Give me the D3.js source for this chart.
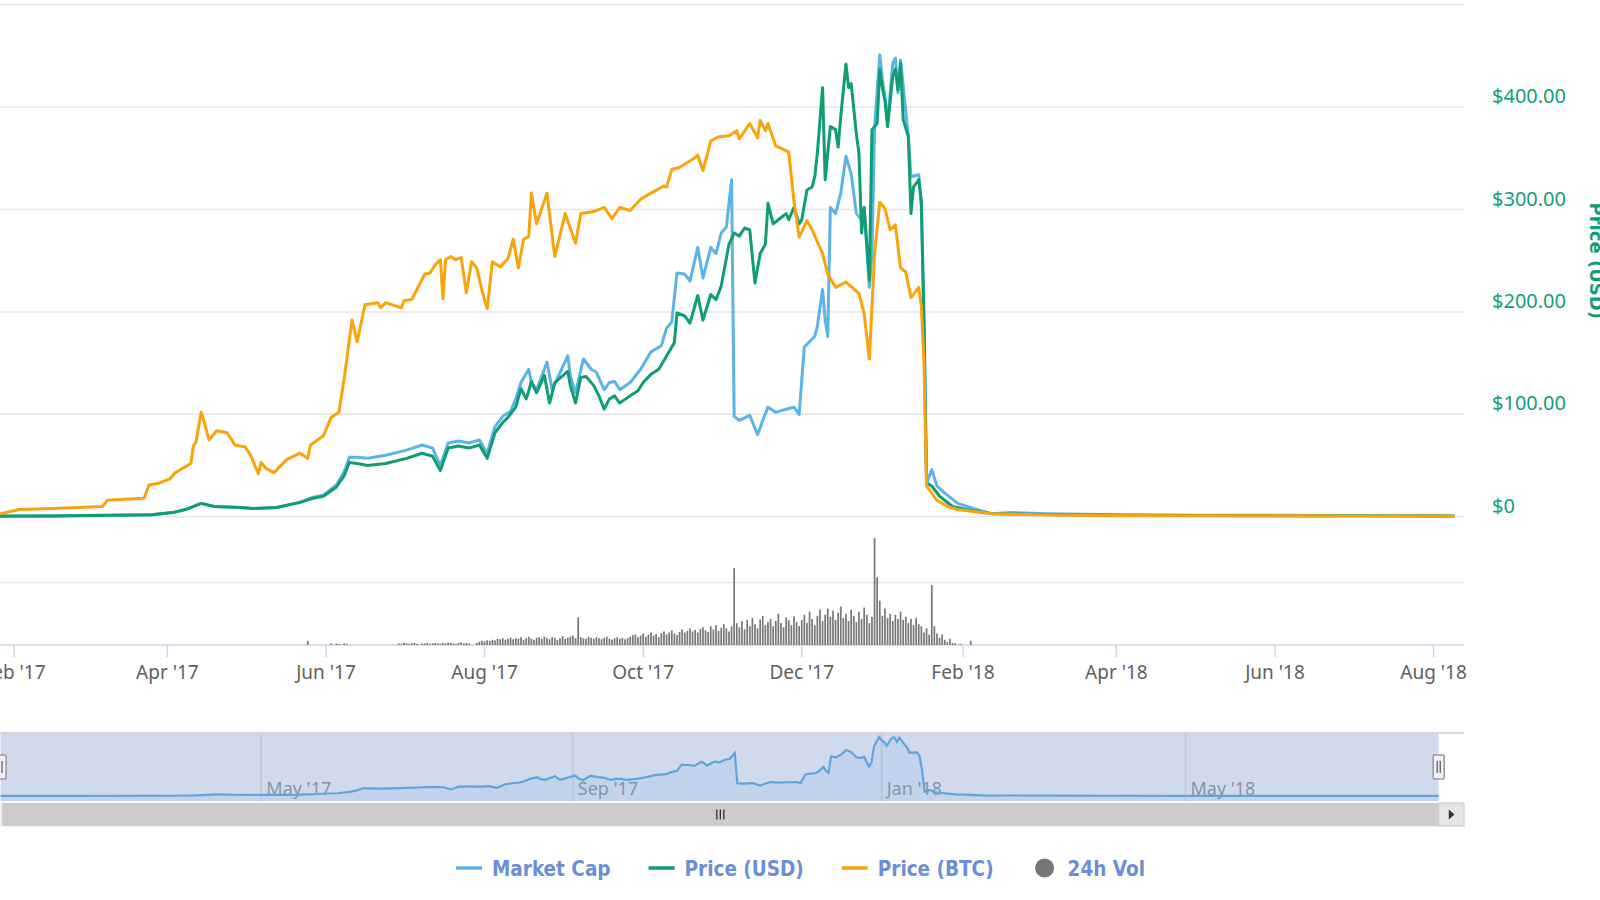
<!DOCTYPE html>
<html>
<head>
<meta charset="utf-8">
<script src="https://d3js.org/d3.v7.min.js"></script>
<style>
  body { margin: 0; background: #fff; }
  svg { display: block; }
</style>
</head>
<body>
<script>
        // Market cap, million USD
        var marketCap = [
            ["2017-01-18", 3], ["2017-02-15", 4], ["2017-03-26", 12], ["2017-04-03", 24], ["2017-04-08", 42],
            ["2017-04-14", 78], ["2017-04-19", 60], ["2017-04-29", 54], ["2017-05-04", 48], ["2017-05-13", 54],
            ["2017-05-22", 84], ["2017-05-27", 114], ["2017-05-31", 126], ["2017-06-05", 186], ["2017-06-08", 264],
            ["2017-06-10", 348], ["2017-06-13", 348], ["2017-06-17", 342], ["2017-06-24", 360], ["2017-07-02", 390],
            ["2017-07-08", 420], ["2017-07-12", 402], ["2017-07-15", 300], ["2017-07-18", 432], ["2017-07-22", 444],
            ["2017-07-26", 432], ["2017-07-30", 450], ["2017-08-02", 372], ["2017-08-05", 528], ["2017-08-08", 588],
            ["2017-08-11", 618], ["2017-08-13", 690], ["2017-08-15", 786], ["2017-08-18", 864], ["2017-08-19", 786],
            ["2017-08-21", 744], ["2017-08-25", 906], ["2017-08-27", 744], ["2017-09-02", 942], ["2017-09-03", 822],
            ["2017-09-05", 726], ["2017-09-08", 924], ["2017-09-11", 864], ["2017-09-13", 846], ["2017-09-16", 744],
            ["2017-09-18", 786], ["2017-09-20", 792], ["2017-09-22", 744], ["2017-09-26", 786], ["2017-09-30", 864],
            ["2017-10-04", 966], ["2017-10-08", 1002], ["2017-10-10", 1104], ["2017-10-12", 1140], ["2017-10-14", 1428],
            ["2017-10-17", 1422], ["2017-10-19", 1380], ["2017-10-22", 1578], ["2017-10-24", 1398], ["2017-10-27", 1578],
            ["2017-10-29", 1542], ["2017-10-31", 1662], ["2017-11-02", 1698], ["2017-11-04", 1974], ["2017-11-05", 588],
            ["2017-11-07", 564], ["2017-11-11", 594], ["2017-11-14", 480], ["2017-11-16", 564], ["2017-11-18", 642],
            ["2017-11-21", 612], ["2017-11-25", 630], ["2017-11-28", 642], ["2017-11-30", 600], ["2017-12-02", 996],
            ["2017-12-04", 1026], ["2017-12-06", 1056], ["2017-12-07", 1116], ["2017-12-09", 1332], ["2017-12-10", 1152],
            ["2017-12-11", 1056], ["2017-12-12", 1812], ["2017-12-14", 1776], ["2017-12-16", 1896], ["2017-12-18", 2112],
            ["2017-12-20", 2010], ["2017-12-22", 1776], ["2017-12-24", 1740], ["2017-12-25", 1812], ["2017-12-27", 1344],
            ["2017-12-28", 1542], ["2017-12-29", 2286], ["2017-12-31", 2706], ["2018-01-01", 2562], ["2018-01-02", 2460],
            ["2018-01-03", 2304], ["2018-01-05", 2658], ["2018-01-06", 2688], ["2018-01-07", 2484], ["2018-01-08", 2676],
            ["2018-01-11", 2226], ["2018-01-12", 1992], ["2018-01-15", 2004], ["2018-01-16", 1812], ["2018-01-17", 1152],
            ["2018-01-18", 198], ["2018-01-20", 276], ["2018-01-22", 180], ["2018-01-25", 138], ["2018-01-30", 78],
            ["2018-02-05", 48], ["2018-02-12", 18], ["2018-02-20", 24], ["2018-03-05", 18], ["2018-04-01", 12],
            ["2018-05-01", 9], ["2018-06-01", 8], ["2018-07-01", 7], ["2018-08-09", 6]
        ];

        // Price in USD
        var priceUsd = [
            ["2017-01-18", 0.5], ["2017-02-15", 0.7], ["2017-03-26", 2], ["2017-04-03", 4], ["2017-04-08", 7],
            ["2017-04-14", 13], ["2017-04-19", 10], ["2017-04-29", 9], ["2017-05-04", 8], ["2017-05-13", 9],
            ["2017-05-22", 14], ["2017-05-27", 18], ["2017-05-31", 20], ["2017-06-05", 29], ["2017-06-08", 40],
            ["2017-06-10", 53], ["2017-06-13", 52], ["2017-06-17", 50], ["2017-06-24", 52], ["2017-07-02", 57],
            ["2017-07-08", 62], ["2017-07-12", 59], ["2017-07-15", 45], ["2017-07-18", 67], ["2017-07-22", 69],
            ["2017-07-26", 67], ["2017-07-30", 70], ["2017-08-02", 57], ["2017-08-05", 82], ["2017-08-08", 92],
            ["2017-08-10", 97], ["2017-08-13", 107], ["2017-08-15", 125], ["2017-08-17", 115], ["2017-08-18", 123],
            ["2017-08-19", 132], ["2017-08-21", 121], ["2017-08-24", 138], ["2017-08-26", 111], ["2017-08-28", 131],
            ["2017-09-02", 142], ["2017-09-03", 128], ["2017-09-05", 111], ["2017-09-07", 136], ["2017-09-09", 137],
            ["2017-09-12", 128], ["2017-09-14", 118], ["2017-09-16", 105], ["2017-09-18", 115], ["2017-09-20", 118],
            ["2017-09-22", 111], ["2017-09-26", 118], ["2017-09-29", 123], ["2017-10-01", 131], ["2017-10-04", 139],
            ["2017-10-07", 144], ["2017-10-10", 157], ["2017-10-13", 170], ["2017-10-14", 199], ["2017-10-17", 196],
            ["2017-10-19", 189], ["2017-10-22", 216], ["2017-10-24", 192], ["2017-10-27", 217], ["2017-10-29", 212],
            ["2017-10-31", 225], ["2017-11-03", 266], ["2017-11-05", 277], ["2017-11-07", 274], ["2017-11-09", 282],
            ["2017-11-11", 280], ["2017-11-13", 228], ["2017-11-15", 257], ["2017-11-17", 266], ["2017-11-18", 306],
            ["2017-11-20", 286], ["2017-11-22", 290], ["2017-11-25", 296], ["2017-11-26", 290], ["2017-11-28", 302],
            ["2017-11-30", 286], ["2017-12-01", 290], ["2017-12-03", 319], ["2017-12-05", 322], ["2017-12-06", 332],
            ["2017-12-07", 355], ["2017-12-09", 419], ["2017-12-10", 329], ["2017-12-12", 381], ["2017-12-14", 378],
            ["2017-12-15", 361], ["2017-12-16", 391], ["2017-12-18", 442], ["2017-12-19", 419], ["2017-12-20", 423],
            ["2017-12-22", 374], ["2017-12-23", 355], ["2017-12-24", 277], ["2017-12-25", 302], ["2017-12-27", 231],
            ["2017-12-28", 378], ["2017-12-30", 384], ["2017-12-31", 437], ["2018-01-01", 419], ["2018-01-02", 406],
            ["2018-01-03", 381], ["2018-01-05", 430], ["2018-01-06", 437], ["2018-01-07", 417], ["2018-01-08", 443],
            ["2018-01-09", 388], ["2018-01-11", 371], ["2018-01-12", 296], ["2018-01-13", 322], ["2018-01-15", 329],
            ["2018-01-16", 308], ["2018-01-17", 192], ["2018-01-18", 33], ["2018-01-20", 30], ["2018-01-23", 20],
            ["2018-01-28", 10], ["2018-02-04", 6], ["2018-02-12", 3], ["2018-02-25", 2.5], ["2018-03-10", 2],
            ["2018-04-01", 1.5], ["2018-05-01", 1.2], ["2018-06-01", 1], ["2018-07-01", 0.9], ["2018-08-09", 0.8]
        ];

        // Price in BTC
        var priceBtc = [
            ["2017-01-18", 0.0002], ["2017-01-27", 0.0003], ["2017-02-03", 0.0007], ["2017-02-16", 0.0008], ["2017-03-07", 0.0010],
            ["2017-03-09", 0.0016], ["2017-03-23", 0.0018], ["2017-03-25", 0.0031], ["2017-03-29", 0.0033], ["2017-04-02", 0.0037],
            ["2017-04-04", 0.0043], ["2017-04-10", 0.0052], ["2017-04-11", 0.0069], ["2017-04-12", 0.0073], ["2017-04-14", 0.0102],
            ["2017-04-15", 0.0094], ["2017-04-17", 0.0075], ["2017-04-20", 0.0084], ["2017-04-24", 0.0082], ["2017-04-27", 0.0070],
            ["2017-05-01", 0.0068], ["2017-05-03", 0.0060], ["2017-05-06", 0.0042], ["2017-05-07", 0.0053], ["2017-05-09", 0.0047],
            ["2017-05-12", 0.0043], ["2017-05-17", 0.0056], ["2017-05-22", 0.0062], ["2017-05-25", 0.0057], ["2017-05-26", 0.0070],
            ["2017-05-31", 0.0079], ["2017-06-03", 0.0097], ["2017-06-06", 0.0102], ["2017-06-08", 0.0135], ["2017-06-11", 0.0192],
            ["2017-06-13", 0.0171], ["2017-06-16", 0.0207], ["2017-06-21", 0.0209], ["2017-06-22", 0.0204], ["2017-06-24", 0.0209],
            ["2017-06-30", 0.0204], ["2017-07-01", 0.0211], ["2017-07-04", 0.0212], ["2017-07-09", 0.0237], ["2017-07-11", 0.0238],
            ["2017-07-13", 0.0246], ["2017-07-15", 0.0251], ["2017-07-16", 0.0213], ["2017-07-17", 0.0251], ["2017-07-19", 0.0254],
            ["2017-07-21", 0.0251], ["2017-07-23", 0.0253], ["2017-07-25", 0.0219], ["2017-07-27", 0.0249], ["2017-07-29", 0.0243],
            ["2017-07-31", 0.0221], ["2017-08-02", 0.0203], ["2017-08-04", 0.0249], ["2017-08-07", 0.0244], ["2017-08-10", 0.0252],
            ["2017-08-12", 0.0271], ["2017-08-14", 0.0243], ["2017-08-16", 0.0271], ["2017-08-18", 0.0274], ["2017-08-19", 0.0316],
            ["2017-08-21", 0.0286], ["2017-08-25", 0.0316], ["2017-08-28", 0.0254], ["2017-09-01", 0.0296], ["2017-09-05", 0.0267],
            ["2017-09-07", 0.0296], ["2017-09-12", 0.0298], ["2017-09-16", 0.0302], ["2017-09-19", 0.0291], ["2017-09-22", 0.0302],
            ["2017-09-26", 0.0299], ["2017-09-30", 0.0310], ["2017-10-04", 0.0316], ["2017-10-09", 0.0323], ["2017-10-10", 0.0322],
            ["2017-10-12", 0.0339], ["2017-10-15", 0.0341], ["2017-10-20", 0.0349], ["2017-10-22", 0.0353], ["2017-10-24", 0.0338],
            ["2017-10-27", 0.0367], ["2017-10-30", 0.0371], ["2017-11-03", 0.0372], ["2017-11-06", 0.0377], ["2017-11-07", 0.0369],
            ["2017-11-11", 0.0384], ["2017-11-14", 0.0370], ["2017-11-15", 0.0387], ["2017-11-17", 0.0377], ["2017-11-18", 0.0384],
            ["2017-11-21", 0.0362], ["2017-11-23", 0.0360], ["2017-11-26", 0.0356], ["2017-11-28", 0.0308], ["2017-11-30", 0.0273],
            ["2017-12-03", 0.0289], ["2017-12-05", 0.0280], ["2017-12-09", 0.0257], ["2017-12-11", 0.0237], ["2017-12-14", 0.0224],
            ["2017-12-18", 0.0229], ["2017-12-23", 0.0218], ["2017-12-25", 0.0198], ["2017-12-27", 0.0154], ["2017-12-29", 0.0257],
            ["2017-12-31", 0.0307], ["2018-01-02", 0.0301], ["2018-01-04", 0.0280], ["2018-01-06", 0.0285], ["2018-01-08", 0.0243],
            ["2018-01-10", 0.0239], ["2018-01-12", 0.0214], ["2018-01-15", 0.0224], ["2018-01-16", 0.0205], ["2018-01-17", 0.0150],
            ["2018-01-18", 0.0030], ["2018-01-20", 0.0023], ["2018-01-22", 0.0016], ["2018-01-26", 0.0010], ["2018-01-30", 0.0007],
            ["2018-02-05", 0.0005], ["2018-02-12", 0.0003], ["2018-02-20", 0.00025], ["2018-03-01", 0.0002], ["2018-03-15", 0.00015],
            ["2018-04-01", 0.00012], ["2018-05-01", 0.0001], ["2018-06-01", 0.00009], ["2018-07-01", 0.00008], ["2018-08-09", 0.00007]
        ];

        // 24h volume, million USD, one value per day from volumeStart
        var volumeStart = "2017-05-25";
        var volume = [
            0.8, 0, 0, 0, 0, 0, 0, 0, 0, 0.3,
            0, 0.3, 0.2, 0, 0.3, 0.2, 0, 0, 0, 0,
            0, 0, 0, 0, 0, 0, 0, 0, 0, 0,
            0, 0, 0, 0, 0, 0.3, 0.2, 0.4, 0.3, 0.2,
            0.3, 0.4, 0.2, 0, 0.3, 0.3, 0.4, 0.2, 0.3, 0.4,
            0.3, 0.2, 0.4, 0.3, 0.5, 0.4, 0.3, 0.2, 0.4, 0.5,
            0.3, 0.4, 0.3, 0, 0, 0.4, 0.6, 0.8, 0.7, 0.9,
            0.8, 1.0, 0.9, 1.2, 1.1, 1.3, 1.0, 1.2, 1.4, 1.1,
            1.3, 1.2, 1.5, 1.0, 1.3, 1.6, 1.2, 1.0, 1.4, 1.5,
            1.2, 1.6, 1.3, 1.1, 1.5, 1.4, 1.0, 1.3, 1.7, 1.2,
            1.4, 1.6, 1.8, 1.3, 5.3, 1.5, 1.3, 1.2, 1.6, 1.4,
            1.2, 1.5, 1.3, 1.1, 1.4, 1.6, 1.2, 1.0, 1.3, 1.5,
            1.2, 1.4, 1.1, 1.3, 1.6, 1.9, 2.0, 1.5, 1.8, 2.2,
            1.6, 2.0, 2.4, 1.8, 2.1, 1.5, 2.3, 2.6, 2.0, 2.4,
            2.8, 2.2, 1.9, 2.5, 3.0, 2.4, 2.7, 3.2, 2.6, 2.9,
            2.4, 3.1, 3.4, 2.8, 2.5, 3.6, 3.0, 3.8, 2.7, 3.3,
            4.0, 3.2, 2.6, 3.6, 14.8, 4.2, 3.4, 4.6, 3.0, 4.8,
            3.6, 5.2, 4.0, 3.2, 4.9, 5.6, 3.8, 4.4, 5.0, 3.6,
            4.6, 6.0, 4.2, 3.4, 5.3, 4.8, 3.8, 5.5, 4.4, 3.6,
            4.8, 5.8, 4.2, 6.4, 5.0, 3.8, 5.6, 6.8, 4.6, 5.8,
            7.0, 5.4, 6.6, 4.8, 6.2, 7.4, 5.2, 6.0, 4.6, 6.8,
            5.6, 4.4, 6.4, 5.0, 7.2, 5.8, 4.2, 5.4, 20.5, 13.0,
            8.5, 5.6, 7.0, 5.2, 6.0, 4.6, 5.8, 5.0, 6.4, 4.8,
            5.4, 4.2, 5.0, 3.8, 5.2, 4.0, 3.6, 2.4, 3.2, 2.0,
            11.5, 3.6, 2.2, 1.4, 2.0, 1.0, 0.6, 1.2, 0.4, 0.3,
            0, 0.2, 0, 0, 0, 0.8
        ];

        var priceTicks = [0, 100, 200, 300, 400, 500];
        var monthTicks = ["2017-02-01", "2017-04-01", "2017-06-01", "2017-08-01", "2017-10-01", "2017-12-01",
                          "2018-02-01", "2018-04-01", "2018-06-01", "2018-08-01"];
        var navTicks = ["2017-05-01", "2017-09-01", "2018-01-01", "2018-05-01"];
        var seriesNames = ["Market Cap", "Price (USD)", "Price (BTC)", "24h Vol"];
        var seriesColors = ["#5ab4e8", "#0f9d74", "#f9a30d", "#777777"];

        var width = 1600;
        var height = 900;
        var plotRight = 1464;
        var labelFont = "'Noto Sans', 'Open Sans', sans-serif";

        var parse = d3.utcParse("%Y-%m-%d");

        // Scales for the main panes (price axis shown, the others hidden)
        var x = d3.scaleUtc()
                  .domain([new Date(Date.UTC(2017, 0, 26, 15)), new Date(Date.UTC(2018, 7, 12, 17))])
                  .range([0, plotRight]);
        var yUsd = d3.scaleLinear().domain([0, 500]).range([516.7, 4.7]);
        var yCap = d3.scaleLinear().domain([0, 3000]).range([516.7, 4.7]);
        var yBtc = d3.scaleLinear().domain([0, 0.05]).range([516.7, 4.7]);
        var yVol = d3.scaleLinear().domain([0, 24]).range([645, 520]);

        // Navigator scales
        var xNav = d3.scaleUtc()
                     .domain([new Date(Date.UTC(2017, 0, 17, 19)), new Date(Date.UTC(2018, 7, 19))])
                     .range([0, plotRight]);
        var yNav = d3.scaleLinear().domain([0, d3.max(marketCap, function(d) { return d[1]; })]).range([796, 737]);

        var svg = d3.select("body")
                    .append("svg")
                    .attr("width", width)
                    .attr("height", height);

        svg.append("defs").append("clipPath").attr("id", "plot")
           .append("rect").attr("x", 0).attr("y", 0).attr("width", plotRight).attr("height", 646);

        // Price grid lines
        svg.append("g").selectAll("line")
           .data(priceTicks)
           .enter()
           .append("line")
           .attr("x1", 0).attr("x2", plotRight)
           .attr("y1", function(d) { return yUsd(d); })
           .attr("y2", function(d) { return yUsd(d); })
           .style("stroke", "#e6e6e6")
           .style("stroke-width", 1.5);

        // Volume grid line
        svg.append("line")
           .attr("x1", 0).attr("x2", plotRight)
           .attr("y1", yVol(12)).attr("y2", yVol(12))
           .style("stroke", "#e6e6e6")
           .style("stroke-width", 1.5);

        // X axis line, ticks and labels
        svg.append("line")
           .attr("x1", 0).attr("x2", plotRight)
           .attr("y1", yVol(0)).attr("y2", yVol(0))
           .style("stroke", "#ccd6eb")
           .style("stroke-width", 1.5);

        var xTicks = svg.append("g").selectAll("g")
                        .data(monthTicks)
                        .enter()
                        .append("g")
                        .attr("transform", function(d) { return "translate(" + x(parse(d)) + ",0)"; });
        xTicks.append("line")
              .attr("y1", yVol(0)).attr("y2", yVol(0) + 12)
              .style("stroke", "#ccd6eb")
              .style("stroke-width", 1.5);
        xTicks.append("text")
              .attr("y", 678.5)
              .attr("text-anchor", "middle")
              .style("font-family", labelFont)
              .style("font-size", "19px")
              .style("fill", "#606060")
              .text(function(d) { return d3.utcFormat("%b '%y")(parse(d)); });

        var plot = svg.append("g").attr("clip-path", "url(#plot)");

        // Volume bars
        var day0 = parse(volumeStart);
        plot.append("g").selectAll("rect")
            .data(volume)
            .enter()
            .append("rect")
            .attr("x", function(d, i) { return x(d3.utcDay.offset(day0, i)) - 0.85; })
            .attr("width", 1.7)
            .attr("y", function(d) { return yVol(d); })
            .attr("height", function(d) { return yVol(0) - yVol(d); })
            .style("fill", seriesColors[3]);

        // Lines
        function drawLine(data, yScale, color) {
            var line = d3.line()
                         .x(function(d) { return x(parse(d[0])); })
                         .y(function(d) { return yScale(d[1]); });
            plot.append("path")
                .datum(data)
                .attr("d", line)
                .style("fill", "none")
                .style("stroke", color)
                .style("stroke-width", 3)
                .style("stroke-linejoin", "round");
        }
        drawLine(marketCap, yCap, seriesColors[0]);
        drawLine(priceUsd, yUsd, seriesColors[1]);
        drawLine(priceBtc, yBtc, seriesColors[2]);

        // Price axis labels on the right
        svg.append("g").selectAll("text")
           .data(priceTicks.slice(0, 5))
           .enter()
           .append("text")
           .attr("x", 1492)
           .attr("y", function(d) { return yUsd(d) - 4; })
           .style("font-family", labelFont)
           .style("font-size", "20px")
           .style("fill", "#12a079")
           .text(function(d) { return d === 0 ? "$0" : "$" + d3.format(".2f")(d); });

        svg.append("text")
           .attr("transform", "translate(1590," + yUsd(250) + ") rotate(90)")
           .attr("text-anchor", "middle")
           .style("font-family", "'DejaVu Sans', sans-serif")
           .style("font-weight", "bold")
           .style("font-size", "18px")
           .style("fill", "#0f9d74")
           .text("Price (USD)");

        // Navigator
        var nav = svg.append("g");
        nav.append("g").selectAll("line")
           .data(navTicks)
           .enter()
           .append("line")
           .attr("x1", function(d) { return xNav(parse(d)); })
           .attr("x2", function(d) { return xNav(parse(d)); })
           .attr("y1", 733).attr("y2", 801)
           .style("stroke", "#e6e6e6")
           .style("stroke-width", 1.5);
        nav.append("g").selectAll("text")
           .data(navTicks)
           .enter()
           .append("text")
           .attr("x", function(d) { return xNav(parse(d)) + 5; })
           .attr("y", 795)
           .style("font-family", labelFont)
           .style("font-size", "18px")
           .style("fill", "#999999")
           .text(function(d) { return d3.utcFormat("%b '%y")(parse(d)); });

        var navArea = d3.area()
                        .x(function(d) { return xNav(parse(d[0])); })
                        .y0(801)
                        .y1(function(d) { return yNav(d[1]); });
        var navLine = d3.line()
                        .x(function(d) { return xNav(parse(d[0])); })
                        .y(function(d) { return yNav(d[1]); });
        nav.append("path").datum(marketCap).attr("d", navArea)
           .style("fill", "rgba(90,170,230,0.12)");
        nav.append("path").datum(marketCap).attr("d", navLine)
           .style("fill", "none").style("stroke", seriesColors[0]).style("stroke-width", 2.2);

        // Selected range mask
        var selStart = xNav(parse(marketCap[0][0]));
        var selEnd = xNav(parse(marketCap[marketCap.length - 1][0]));
        nav.append("rect")
           .attr("x", selStart).attr("y", 733)
           .attr("width", selEnd - selStart).attr("height", 68)
           .style("fill", "rgba(102,133,194,0.3)");
        nav.append("line")
           .attr("x1", 0).attr("x2", plotRight)
           .attr("y1", 733).attr("y2", 733)
           .style("stroke", "#cccccc").style("stroke-width", 1.5);

        // Handles
        [selStart, selEnd].forEach(function(hx) {
            var h = nav.append("g").attr("transform", "translate(" + hx + ",767)");
            h.append("rect").attr("x", -5.5).attr("y", -12).attr("width", 11).attr("height", 24).attr("rx", 1)
             .style("fill", "#f2f2f2").style("stroke", "#999999").style("stroke-width", 1.5);
            h.append("line").attr("x1", -1.5).attr("x2", -1.5).attr("y1", -6).attr("y2", 6)
             .style("stroke", "#333").style("stroke-width", 1);
            h.append("line").attr("x1", 1.5).attr("x2", 1.5).attr("y1", -6).attr("y2", 6)
             .style("stroke", "#333").style("stroke-width", 1);
        });

        // Scrollbar
        var sb = svg.append("g");
        sb.append("rect").attr("x", 0).attr("y", 803).attr("width", plotRight).attr("height", 23)
          .style("fill", "#f2f2f2").style("stroke", "#f2f2f2");
        sb.append("rect").attr("x", 2).attr("y", 803).attr("width", selEnd - 2).attr("height", 23)
          .style("fill", "#cccccc");
        [-3.5, 0, 3.5].forEach(function(dx) {
            sb.append("line")
              .attr("x1", (2 + selEnd) / 2 + dx).attr("x2", (2 + selEnd) / 2 + dx)
              .attr("y1", 809.5).attr("y2", 819.5)
              .style("stroke", "#333").style("stroke-width", 1.3);
        });
        sb.append("rect").attr("x", selEnd).attr("y", 803).attr("width", plotRight - selEnd).attr("height", 23)
          .style("fill", "#e6e6e6").style("stroke", "#cccccc").style("stroke-width", 1);
        var ax = (selEnd + plotRight) / 2;
        sb.append("path")
          .attr("d", "M" + (ax - 2.5) + ",809.5 L" + (ax + 3) + ",814.5 L" + (ax - 2.5) + ",819.5 Z")
          .style("fill", "#333");

        // Legend
        var legend = svg.append("g");
        var lx = 456;
        seriesNames.forEach(function(name, i) {
            if (i < 3) {
                legend.append("line")
                      .attr("x1", lx).attr("x2", lx + 26)
                      .attr("y1", 868).attr("y2", 868)
                      .style("stroke", seriesColors[i]).style("stroke-width", 3.5);
            } else {
                legend.append("circle")
                      .attr("cx", lx + 13).attr("cy", 868).attr("r", 9.5)
                      .style("fill", seriesColors[i]);
            }
            var t = legend.append("text")
                          .attr("x", lx + 36)
                          .attr("y", 875.5)
                          .style("font-family", "'DejaVu Sans Condensed', 'Liberation Sans Narrow', 'DejaVu Sans', sans-serif")
                          .style("font-stretch", "condensed")
                          .style("font-weight", "bold")
                          .style("font-size", "20.5px")
                          .style("fill", "#6a8fd6")
                          .text(name);
            lx += 36 + t.node().getComputedTextLength() + 38;
        });
</script>
</body>
</html>
